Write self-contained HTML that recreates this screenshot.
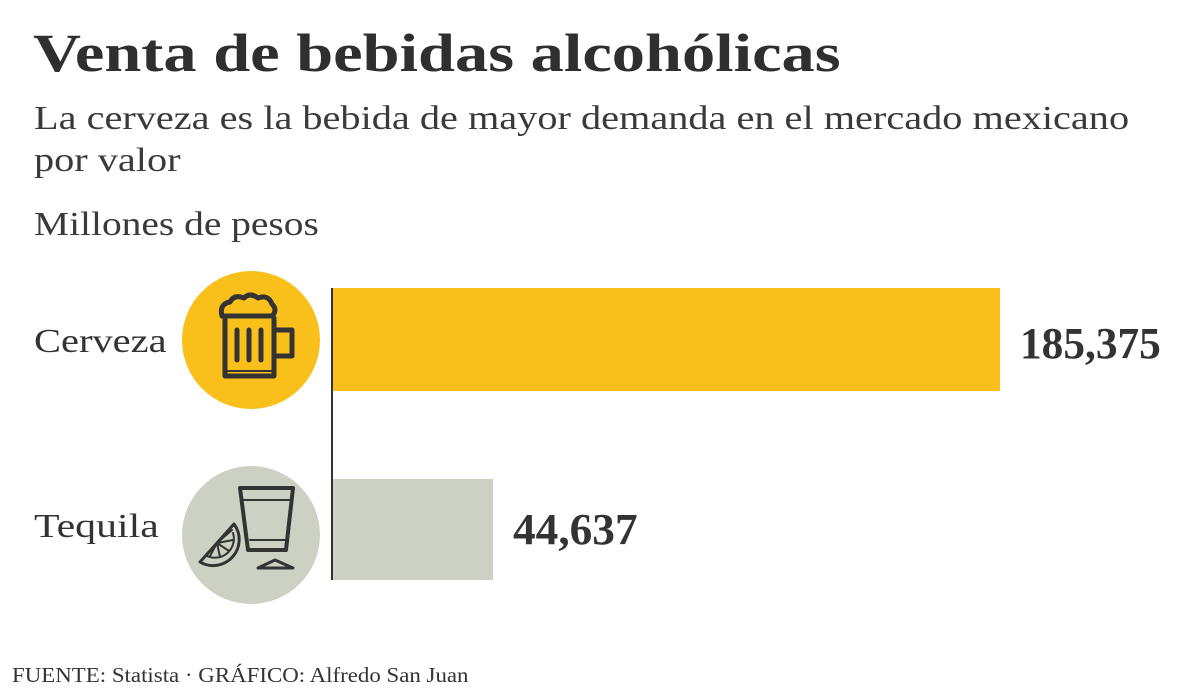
<!DOCTYPE html>
<html><head><meta charset="utf-8"><style>
body{margin:0;width:1200px;height:695px;background:#fff;position:relative;overflow:hidden;font-family:"Liberation Serif",serif;color:#333}
.t{position:absolute;white-space:nowrap;transform-origin:0 0}
</style></head><body>
<div class="t" style="left:33px;top:22px;font-size:54px;font-weight:bold;color:#2f2f2f;transform:scaleX(1.23)">Venta de bebidas alcohólicas</div>
<div class="t" style="left:34px;top:98px;font-size:34px;line-height:42px;color:#3a3a3a;transform:scaleX(1.185)">La cerveza es la bebida de mayor demanda en el mercado mexicano<br>por valor</div>
<div class="t" style="left:34px;top:206px;font-size:34px;color:#3a3a3a;transform:scaleX(1.16)">Millones de pesos</div>
<div class="t" style="left:34px;top:323px;font-size:34px;color:#333;transform:scaleX(1.19)">Cerveza</div>
<div class="t" style="left:34px;top:508px;font-size:34px;color:#333;transform:scaleX(1.23)">Tequila</div>
<div style="position:absolute;left:333px;top:288px;width:667px;height:103px;background:#f9bf1a"></div>
<div style="position:absolute;left:333px;top:479px;width:160px;height:101px;background:#cdd1c3"></div>
<div style="position:absolute;left:331px;top:288px;width:2px;height:292px;background:#333"></div>
<div class="t" style="left:1020px;top:318px;font-size:44px;font-weight:bold;color:#333;transform:scaleX(0.985)">185,375</div>
<div class="t" style="left:513px;top:504px;font-size:44px;font-weight:bold;color:#333;transform:scaleX(1.03)">44,637</div>
<svg style="position:absolute;left:0;top:0" width="1200" height="695">
<circle cx="251" cy="340" r="69" fill="#f9bf1a"/>
<circle cx="251" cy="535" r="69" fill="#cdd1c3"/>
<g fill="none" stroke="#333" stroke-width="5" stroke-linejoin="round" stroke-linecap="round">
<path d="M225 318 V376 H274 V318"/>
<path d="M274 330 H292 V356 H274"/>
<path d="M222 316 q-3 -12 8 -14 q4 -8 14 -4 q6 -6 14 0 q10 -4 14 6 q6 6 0 12 Z"/>
<path d="M237 330 V360 M249 330 V360 M261 330 V360"/>
<path d="M228 371 H272" stroke-width="2"/>
<path d="M240 488 H293 L286 550 H248 Z" stroke-width="4"/>
<path d="M243 500 H291" stroke-width="2"/>
<path d="M250 540 H285" stroke-width="2"/>
<path d="M258 568 L275 560 L293 568 Z" stroke-width="3"/>
<path d="M200 562 L234 524 A26 26 0 0 1 200 562 Z" stroke-width="3"/>
<path d="M207 556 A19 19 0 0 0 233 533" stroke-width="2"/>
<path d="M217 543 L210 556 M217 543 L220 557 M217 543 L229 551 M217 543 L233 540 M217 543 L232 530" stroke-width="2"/>
</g>
</svg>
<div class="t" style="left:12px;top:663px;font-size:21px;color:#333;transform:scaleX(1.09)">FUENTE: Statista · GRÁFICO: Alfredo San Juan</div>
</body></html>
